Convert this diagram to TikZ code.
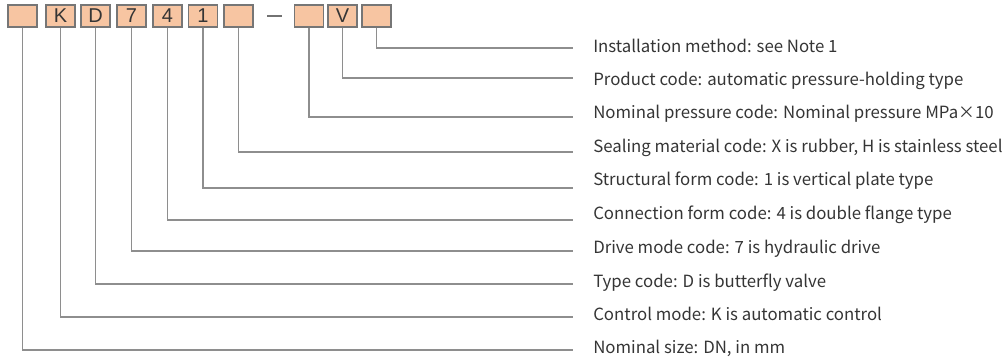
\documentclass[tikz,border=0pt]{standalone}
\usepackage{fontspec}
\setmainfont{Noto Sans CJK SC}
\newfontfamily\boxfont{Liberation Sans}
\usetikzlibrary{calc}
\definecolor{peach}{HTML}{F7C5A2}
\definecolor{boxedge}{HTML}{767676}
\definecolor{leadgray}{HTML}{8E8E8E}
\definecolor{ink}{HTML}{353535}
\tikzset{
  codebox/.style={draw=boxedge, fill=peach, line width=0.9pt, minimum width=21.75pt,
    minimum height=16.5pt, inner sep=0pt, text=ink, font=\boxfont\fontsize{15}{15}\selectfont},
  leader/.style={draw=leadgray, line width=1.1pt},
  legend/.style={anchor=base west, inner sep=0pt, text=ink, font=\fontsize{12.6}{14}\selectfont}
}

\begin{document}
\begin{tikzpicture}[x=0.75pt, y=-0.75pt]
      \useasboundingbox (0,0) rectangle (1005,361);

      % CASES DU CODE
      \node[codebox] (b1) at (22.5,16) {};
      \node[codebox] (b2) at (60.5,16) {K};
      \node[codebox] (b3) at (95.5,16) {D};
      \node[codebox] (b4) at (131.5,16) {7};
      \node[codebox] (b5) at (167.5,16) {4};
      \node[codebox] (b6) at (203,16) {1};
      \node[codebox] (b7) at (238.5,16) {};
      \node[text=ink!70, inner sep=0pt] (dash) at (274.5,16) {\rule{11pt}{1.3pt}};
      \node[codebox] (b8) at (309,16) {};
      \node[codebox] (b9) at (342.5,16) {V};
      \node[codebox] (b10) at (376.5,16) {};

      % FINS DES TRAITS
      \coordinate (e10) at (573,48);
      \coordinate (e9) at (573,78);
      \coordinate (e8) at (573,117);
      \coordinate (e7) at (573,152);
      \coordinate (e6) at (573,188);
      \coordinate (e5) at (573,220);
      \coordinate (e4) at (573,251);
      \coordinate (e3) at (573,284);
      \coordinate (e2) at (573,317);
      \coordinate (e1) at (573,350);

      % TRAITS
      \draw[leader] (b10.south) |- (e10);
      \draw[leader] (b9.south) |- (e9);
      \draw[leader] (b8.south) |- (e8);
      \draw[leader] (b7.south) |- (e7);
      \draw[leader] (b6.south) |- (e6);
      \draw[leader] (b5.south) |- (e5);
      \draw[leader] (b4.south) |- (e4);
      \draw[leader] (b3.south) |- (e3);
      \draw[leader] (b2.south) |- (e2);
      \draw[leader] (b1.south) |- (e1);

      % LEGENDES
      \node[legend] (t10) at (593,52.5) {Installation method: see Note 1};
      \node[legend] (t9) at (593,85.5) {Product code: automatic pressure-holding type};
      \node[legend] (t8) at (593,118.5) {Nominal pressure code: Nominal pressure MPa×10};
      \node[legend] (t7) at (593,152.5) {Sealing material code: X is rubber, H is stainless steel};
      \node[legend] (t6) at (593,185.5) {Structural form code: 1 is vertical plate type};
      \node[legend] (t5) at (593,219.5) {Connection form code: 4 is double flange type};
      \node[legend] (t4) at (593,253.5) {Drive mode code: 7 is hydraulic drive};
      \node[legend] (t3) at (593,287.5) {Type code: D is butterfly valve};
      \node[legend] (t2) at (593,320.5) {Control mode: K is automatic control};
      \node[legend] (t1) at (593,353.5) {Nominal size: DN, in mm};
\end{tikzpicture}
\end{document}
